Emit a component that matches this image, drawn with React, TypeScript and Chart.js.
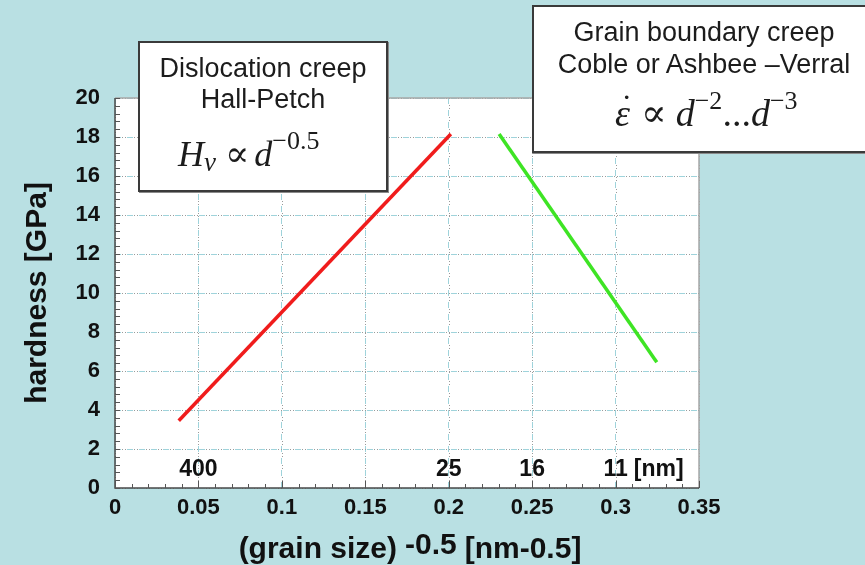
import React, { useEffect, useRef } from 'react';
import { Chart, registerables } from 'chart.js';

Chart.register(...registerables);

// ---------- data ----------
const xTickValues = [0, 0.05, 0.1, 0.15, 0.2, 0.25, 0.3, 0.35];
const xTickLabels = ['0', '0.05', '0.1', '0.15', '0.2', '0.25', '0.3', '0.35'];
const yTickValues = [0, 2, 4, 6, 8, 10, 12, 14, 16, 18, 20];
const yTickLabels = ['0', '2', '4', '6', '8', '10', '12', '14', '16', '18', '20'];

const hallPetchX = [0.0382, 0.2013];
const hallPetchY = [3.45, 18.15];
const grainBoundaryX = [0.2302, 0.3247];
const grainBoundaryY = [18.15, 6.45];

const grainSizeLabels = ['400', '25', '16', '11'];
const grainSizePositions = [0.05, 0.2, 0.25, 0.3];
const grainSizeLevel = 1;
const grainSizeUnit = '[nm]';

const yTitle = 'hardness [GPa]';
const xTitleParts = ['(grain size)', '-0.5', '[nm-0.5]'];

const box1Lines = ['Dislocation creep', 'Hall-Petch'];
const box2Lines = ['Grain boundary creep', 'Coble or Ashbee \u2013Verral'];

// ---------- styles ----------
const PAGE_BG = '#b9e0e3';
const SANS = "'Liberation Sans', Arial, Helvetica, sans-serif";
const SERIF = "'Liberation Serif', 'Times New Roman', 'DejaVu Serif', serif";

const decorPlugin = {
  id: 'decor',
  beforeDraw(chart: any) {
    const { ctx, chartArea: a, width, height } = chart;
    ctx.save();
    ctx.fillStyle = PAGE_BG;
    ctx.fillRect(0, 0, width, height);
    ctx.fillStyle = '#ffffff';
    ctx.fillRect(a.left, a.top, a.right - a.left, a.bottom - a.top);
    ctx.restore();
  },
  beforeDatasetsDraw(chart: any) {
    // grey dots between the cyan grid dashes
    const { ctx, chartArea: a } = chart;
    const xs = chart.scales.x;
    const ys = chart.scales.y;
    ctx.save();
    ctx.strokeStyle = '#9a9a9a';
    ctx.lineWidth = 1;
    ctx.setLineDash([1, 2, 1, 8]);
    ctx.lineDashOffset = -7;
    xTickValues.forEach((v) => {
      const px = Math.round(xs.getPixelForValue(v)) + 0.5;
      ctx.beginPath();
      ctx.moveTo(px, a.top);
      ctx.lineTo(px, a.bottom);
      ctx.stroke();
    });
    yTickValues.forEach((v) => {
      const py = Math.round(ys.getPixelForValue(v)) + 0.5;
      ctx.beginPath();
      ctx.moveTo(a.left, py);
      ctx.lineTo(a.right, py);
      ctx.stroke();
    });
    ctx.restore();
  },
  afterDraw(chart: any) {
    const { ctx, chartArea: a } = chart;
    const xs = chart.scales.x;
    const ys = chart.scales.y;
    ctx.save();
    // light frame top/right
    ctx.strokeStyle = '#a8a8a8';
    ctx.lineWidth = 1.5;
    ctx.beginPath();
    ctx.moveTo(a.left, a.top);
    ctx.lineTo(a.right, a.top);
    ctx.lineTo(a.right, a.bottom);
    ctx.stroke();
    // axes
    ctx.strokeStyle = '#4a4a4a';
    ctx.lineWidth = 1.5;
    ctx.beginPath();
    ctx.moveTo(a.left, a.top);
    ctx.lineTo(a.left, a.bottom);
    ctx.lineTo(a.right, a.bottom);
    ctx.stroke();
    // minor ticks
    ctx.lineWidth = 1;
    ctx.strokeStyle = '#555';
    ctx.beginPath();
    for (let i = 0; i <= 50; i++) {
      const py = Math.round(ys.getPixelForValue(i * 0.4)) + 0.5;
      ctx.moveTo(a.left, py);
      ctx.lineTo(a.left + 5, py);
    }
    for (let i = 0; i <= 35; i++) {
      const px = Math.round(xs.getPixelForValue(i * 0.01)) + 0.5;
      const len = i % 5 === 0 ? 7 : 4;
      ctx.moveTo(px, a.bottom);
      ctx.lineTo(px, a.bottom - len);
    }
    ctx.stroke();

    // grain size labels
    ctx.fillStyle = '#111';
    ctx.font = `bold 23px ${SANS}`;
    ctx.textBaseline = 'middle';
    const ly = ys.getPixelForValue(grainSizeLevel) + 1;
    grainSizeLabels.forEach((lab, i) => {
      const px = xs.getPixelForValue(grainSizePositions[i]);
      ctx.textAlign = 'center';
      ctx.fillText(lab, px, ly);
      if (i === grainSizeLabels.length - 1) {
        const w = ctx.measureText(lab).width;
        ctx.textAlign = 'left';
        ctx.fillText(grainSizeUnit, px + w / 2 + 6, ly);
      }
    });

    // x title in parts
    ctx.font = `bold 30px ${SANS}`;
    ctx.textAlign = 'left';
    ctx.textBaseline = 'alphabetic';
    const gap = 8;
    const widths = xTitleParts.map((t) => ctx.measureText(t).width);
    const total = widths.reduce((s, w) => s + w, 0) + gap * (xTitleParts.length - 1);
    let cx = (a.left + a.right) / 2 + 3 - total / 2;
    const baseY = chart.height - 7;
    xTitleParts.forEach((t, i) => {
      ctx.fillText(t, cx, i === 1 ? baseY - 4 : baseY);
      cx += widths[i] + gap;
    });
    ctx.restore();
  },
};

function ChartCanvas() {
  const ref = useRef<HTMLCanvasElement | null>(null);
  useEffect(() => {
    if (!ref.current) return;
    const chart = new Chart(ref.current, {
      type: 'line',
      data: {
        datasets: [
          {
            label: 'Hall-Petch',
            data: hallPetchX.map((x, i) => ({ x, y: hallPetchY[i] })),
            borderColor: '#f01c1c',
            borderWidth: 3.5,
            pointRadius: 0,
            fill: false,
          },
          {
            label: 'Grain boundary creep',
            data: grainBoundaryX.map((x, i) => ({ x, y: grainBoundaryY[i] })),
            borderColor: '#3ee424',
            borderWidth: 3.5,
            pointRadius: 0,
            fill: false,
          },
        ],
      },
      options: {
        responsive: false,
        animation: false,
        devicePixelRatio: 1,
        layout: { padding: { top: 98, right: 166, left: 0, bottom: 0 } },
        plugins: {
          legend: { display: false },
          tooltip: { enabled: false },
          title: { display: false },
        },
        scales: {
          x: {
            type: 'linear',
            min: 0,
            max: 0.35,
            afterFit: (s: any) => {
              s.height = 77;
            },
            afterBuildTicks: (s: any) => {
              s.ticks = xTickValues.map((v) => ({ value: v }));
            },
            ticks: {
              autoSkip: false,
              maxRotation: 0,
              padding: 7,
              color: '#111',
              font: { family: SANS, size: 22, weight: 'bold' },
              callback: (v: any) => {
                const i = xTickValues.findIndex((t) => Math.abs(t - Number(v)) < 1e-9);
                return i >= 0 ? xTickLabels[i] : '';
              },
            },
            grid: { color: '#9fd3db', lineWidth: 1, drawTicks: false },
            border: { display: false, dash: [6, 6] },
          },
          y: {
            type: 'linear',
            min: 0,
            max: 20,
            afterFit: (s: any) => {
              s.width = 115;
            },
            afterBuildTicks: (s: any) => {
              s.ticks = yTickValues.map((v) => ({ value: v }));
            },
            ticks: {
              autoSkip: false,
              padding: 15,
              color: '#111',
              font: { family: SANS, size: 22, weight: 'bold' },
              callback: (v: any) => {
                const i = yTickValues.indexOf(Number(v));
                return i >= 0 ? yTickLabels[i] : '';
              },
            },
            grid: { color: '#9fd3db', lineWidth: 1, drawTicks: false },
            border: { display: false, dash: [6, 6] },
            title: {
              display: true,
              text: yTitle,
              color: '#111',
              font: { family: SANS, size: 30, weight: 'bold' },
              padding: { top: 20, bottom: 0 },
            },
          },
        },
      },
      plugins: [decorPlugin],
    });
    return () => chart.destroy();
  }, []);
  return <canvas ref={ref} width={865} height={565} style={{ display: 'block', width: 865, height: 565 }} />;
}

const boxStyle: React.CSSProperties = {
  position: 'absolute',
  background: '#ffffff',
  border: '2px solid #3a3a3a',
  boxShadow: '1px 1px 0 #8a8a8a',
  color: '#1c1c1c',
  fontFamily: SANS,
  fontSize: 27,
};

const lineStyle = (top: number): React.CSSProperties => ({
  position: 'absolute',
  left: 0,
  right: 0,
  top,
  height: 30,
  lineHeight: '30px',
  textAlign: 'center',
  whiteSpace: 'nowrap',
});

const formulaStyle = (left: number, top: number, size: number): React.CSSProperties => ({
  position: 'absolute',
  left,
  top,
  height: 30,
  lineHeight: '30px',
  fontFamily: SERIF,
  fontSize: size,
  whiteSpace: 'nowrap',
  color: '#1c1c1c',
});

export default function App() {
  useEffect(() => {
    document.body.style.margin = '0';
    document.body.style.background = PAGE_BG;
  }, []);
  return (
    <div style={{ position: 'absolute', left: 0, top: 0, width: 865, height: 565, overflow: 'hidden', background: PAGE_BG }}>
      <ChartCanvas />
      <div style={{ ...boxStyle, left: 138, top: 41, width: 246, height: 147 }}>
        <div style={lineStyle(10)}>{box1Lines[0]}</div>
        <div style={lineStyle(41)}>{box1Lines[1]}</div>
        <div style={formulaStyle(38, 96, 36)}>
          <i>H</i>
          <i style={{ position: 'relative', top: 5, fontSize: 27 }}>v</i>
          <span style={{ margin: '0 5px 0 9px' }}>{'\u221D'}</span>
          <i>d</i>
          <span style={{ position: 'relative', top: -17, fontSize: 26 }}>{'\u22120.5'}</span>
        </div>
      </div>
      <div style={{ ...boxStyle, left: 532, top: 5, width: 340, height: 144 }}>
        <div style={lineStyle(10)}>{box2Lines[0]}</div>
        <div style={lineStyle(42)}>{box2Lines[1]}</div>
        <div style={formulaStyle(81, 91, 38)}>
          <span style={{ position: 'relative', display: 'inline-block' }}>
            <i>{'\u03B5'}</i>
            <span style={{ position: 'absolute', left: 6, top: -6, fontSize: 34 }}>{'\u02D9'}</span>
          </span>
          <span style={{ margin: '0 9px 0 11px' }}>{'\u221D'}</span>
          <i>d</i>
          <span style={{ position: 'relative', top: -17, fontSize: 26 }}>{'\u22122'}</span>
          <span>...</span>
          <i>d</i>
          <span style={{ position: 'relative', top: -17, fontSize: 26 }}>{'\u22123'}</span>
        </div>
      </div>
    </div>
  );
}
